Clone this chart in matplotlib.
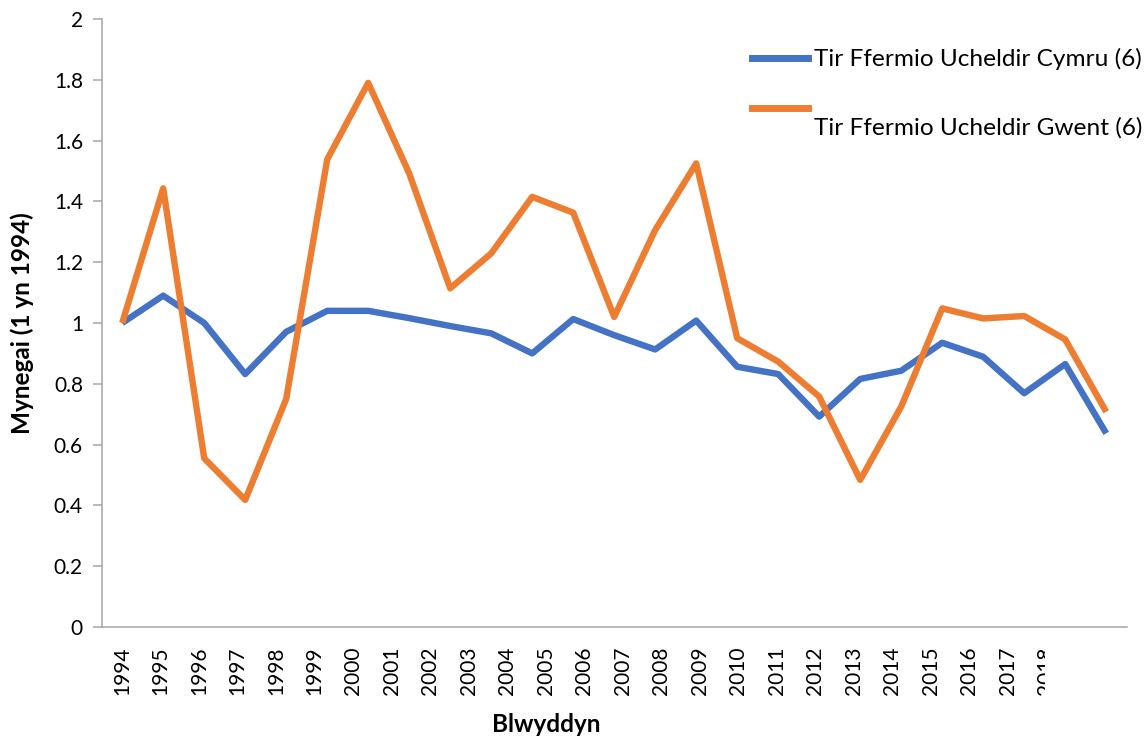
import matplotlib
matplotlib.use("Agg")
import matplotlib.pyplot as plt
import numpy as np
from matplotlib.transforms import Bbox
from matplotlib.lines import Line2D

# ---- data ----
years = [str(y) for y in range(1994, 2019)]
cymru = [1.00, 1.09, 1.00, 0.832, 0.971, 1.04, 1.04, 1.016, 0.99, 0.966,
         0.90, 1.013, 0.96, 0.913, 1.008, 0.856, 0.832, 0.692, 0.816, 0.843,
         0.935, 0.889, 0.769, 0.865, 0.637]
gwent = [1.00, 1.443, 0.555, 0.418, 0.75, 1.538, 1.79, 1.492, 1.114, 1.229,
         1.415, 1.363, 1.02, 1.306, 1.525, 0.95, 0.873, 0.758, 0.484, 0.725,
         1.048, 1.015, 1.023, 0.946, 0.708]
series_names = ["Tir Ffermio Ucheldir Cymru (6)", "Tir Ffermio Ucheldir Gwent (6)"]
y_ticks = [0, 0.2, 0.4, 0.6, 0.8, 1.0, 1.2, 1.4, 1.6, 1.8, 2.0]
y_tick_labels = ["0", "0.2", "0.4", "0.6", "0.8", "1", "1.2", "1.4", "1.6", "1.8", "2"]
x_label = "Blwyddyn"
y_label = "Mynegai (1 yn 1994)"

plt.rcParams['font.family'] = ['Lato', 'DejaVu Sans']

W, H = 1147, 740
fig = plt.figure(figsize=(W / 100, H / 100), dpi=100)
ax = fig.add_axes([101.7 / W, 1 - 627 / H, 1025 / W, 608 / H])

blue = '#4472C4'
orange = '#ED7D31'
axis_gray = '#A6A6A6'

x = np.arange(len(years))
ax.plot(x, cymru, color=blue, lw=4.6, solid_joinstyle='round', solid_capstyle='butt')
ax.plot(x, gwent, color=orange, lw=4.6, solid_joinstyle='round', solid_capstyle='butt')

ax.set_xlim(-0.5, len(years) - 0.5)
ax.set_ylim(0, 2)

ax.set_yticks(y_ticks)
ax.set_yticklabels(y_tick_labels, fontsize=15)
ax.tick_params(axis='y', direction='out', length=6.5, width=1.1, color=axis_gray,
               pad=7, labelcolor='black')

# category labels (spaced as in the reference)
label_pos = np.arange(len(years)) * 38.5 / 41.0
ax.set_xticks(label_pos)
ax.set_xticklabels(years, rotation=90, fontsize=15)
ax.tick_params(axis='x', length=0, pad=14, labelcolor='black')
clip = Bbox.from_extents(0, 0, 1045, H)
for lab in ax.get_xticklabels():
    lab.set_clip_box(clip)
    lab.set_clip_on(True)

for s in ['top', 'right']:
    ax.spines[s].set_visible(False)
for s in ['left', 'bottom']:
    ax.spines[s].set_color(axis_gray)
    ax.spines[s].set_linewidth(1.1)

fig.text(22 / W, 1 - 323 / H, y_label, rotation=90, ha='center', va='center',
         fontsize=17.5, fontweight='bold')
fig.text(546 / W, 1 - 725 / H, x_label, ha='center', va='center',
         fontsize=17.5, fontweight='bold')

handles = [Line2D([], [], color=blue, lw=5), Line2D([], [], color=orange, lw=5)]
leg = fig.legend(handles, [series_names[0], "\n" + series_names[1]],
                 loc='upper left', bbox_to_anchor=(752 / W, 1 - 48 / H),
                 frameon=False, fontsize=17.6, handlelength=2.3, handletextpad=0.24,
                 labelspacing=0.3, borderpad=0, borderaxespad=0)
leg.get_texts()[1].set_linespacing(2.05)

fig.savefig('out.png', dpi=100)
